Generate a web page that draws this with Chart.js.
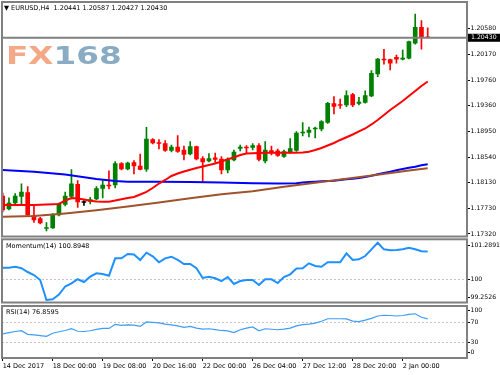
<!DOCTYPE html>
<html>
<head>
<meta charset="utf-8">
<script src="https://cdn.jsdelivr.net/npm/chart.js@4.4.1/dist/chart.umd.min.js"></script>
<style>
  html, body { margin: 0; padding: 0; background: #fff; }
  #wrap { position: relative; width: 500px; height: 375px; overflow: hidden; font-family: "DejaVu Sans", sans-serif; }
  canvas { position: absolute; left: 0; }
  .lbl { position: absolute; font-size: 6.5px; line-height: 10px; color: #000; white-space: pre; }
  #logo { position: absolute; left: 6px; top: 44px; font: bold 24px/24px "DejaVu Sans", sans-serif; transform: scaleX(1.36); transform-origin: 0 0; white-space: nowrap; }
  #logo .fx { color: #f4a886; }
  #logo .n { color: #8aabc4; }
</style>
</head>
<body>
<div id="wrap">
  <canvas id="cMain" width="500" height="240" style="top:0"></canvas>
  <canvas id="cMom" width="500" height="67" style="top:238px"></canvas>
  <canvas id="cRsi" width="500" height="71" style="top:304px"></canvas>
  <div id="logo"><span class="fx">FX</span><span class="n">168</span></div>
  <div class="lbl" id="titleMain" style="left:4px;top:3px"></div>
  <div class="lbl" id="titleMom" style="left:6px;top:241px"></div>
  <div class="lbl" id="titleRsi" style="left:6px;top:307px"></div>
</div>
<script>
// EURUSD H4, 14 Dec 2017 16:00 .. 2 Jan 2018 16:00
const opens = [1.17922,1.17716,1.17811,1.17914,1.17978,1.17613,1.17566,1.17407,1.17415,1.17621,
  1.17788,1.17914,1.18105,1.17819,1.17835,1.17875,1.18041,1.18097,1.18097,1.18437,
  1.18350,1.18453,1.18398,1.18346,1.18818,1.18770,1.18754,1.18643,1.18699,1.18651,
  1.18588,1.18707,1.18517,1.18477,1.18525,1.18509,1.18334,1.18493,1.18675,1.18699,
  1.18691,1.18723,1.18477,1.18643,1.18636,1.18548,1.18612,1.18643,1.18921,1.18929,
  1.18984,1.18984,1.19090,1.19388,1.19373,1.19365,1.19531,1.19388,1.19407,1.19507,
  1.19856,1.20094,1.20086,1.20121,1.20089,1.20105,1.20343,1.20596,1.20441];
const highs = [1.17970,1.17891,1.17962,1.18113,1.18073,1.17780,1.17582,1.17502,1.17645,1.17811,
  1.17986,1.18342,1.18168,1.17851,1.17899,1.18073,1.18168,1.18319,1.18469,1.18453,
  1.18461,1.18485,1.18588,1.19011,1.18834,1.18818,1.18802,1.18731,1.18881,1.18715,
  1.18786,1.18715,1.18548,1.18596,1.18604,1.18548,1.18525,1.18651,1.18731,1.18723,
  1.18754,1.18754,1.18786,1.18715,1.18667,1.18651,1.18834,1.18945,1.19087,1.19016,
  1.19016,1.19119,1.19407,1.19496,1.19460,1.19587,1.19550,1.19484,1.19587,1.19908,
  1.20105,1.20248,1.20094,1.20157,1.20236,1.20379,1.20807,1.20701,1.20587];
const lows = [1.17669,1.17700,1.17788,1.17788,1.17605,1.17502,1.17479,1.17368,1.17407,1.17605,
  1.17764,1.17875,1.17740,1.17772,1.17796,1.17859,1.17891,1.18033,1.18049,1.18334,
  1.18334,1.18271,1.18334,1.18311,1.18747,1.18667,1.18628,1.18620,1.18612,1.18493,
  1.18572,1.18493,1.18149,1.18461,1.18453,1.18271,1.18287,1.18477,1.18636,1.18604,
  1.18651,1.18477,1.18445,1.18572,1.18548,1.18533,1.18596,1.18628,1.18873,1.18857,
  1.18842,1.18953,1.19071,1.19222,1.19312,1.19338,1.19338,1.19365,1.19392,1.19496,
  1.19813,1.20010,1.19919,1.20026,1.20078,1.20094,1.20327,1.20248,1.20427];
const closes = [1.17700,1.17811,1.17922,1.17986,1.17621,1.17542,1.17494,1.17423,1.17629,1.17796,
  1.17922,1.18113,1.17827,1.17819,1.17867,1.18041,1.18097,1.18081,1.18437,1.18350,
  1.18445,1.18398,1.18342,1.18826,1.18762,1.18754,1.18643,1.18699,1.18628,1.18580,
  1.18707,1.18509,1.18461,1.18517,1.18501,1.18334,1.18501,1.18620,1.18699,1.18683,
  1.18723,1.18501,1.18651,1.18604,1.18564,1.18628,1.18675,1.18921,1.18937,1.18968,
  1.18995,1.19100,1.19392,1.19341,1.19357,1.19512,1.19365,1.19412,1.19512,1.19867,
  1.20094,1.20078,1.20026,1.20089,1.20110,1.20368,1.20596,1.20438,1.20430];

// moving averages
const redMA = [1.17780,1.17780,1.17780,1.17780,1.17780,1.17780,1.17783,1.17788,1.17792,1.17796,
  1.17851,1.17891,1.17883,1.17867,1.17848,1.17835,1.17832,1.17832,1.17851,1.17870,
  1.17891,1.17906,1.17946,1.17986,1.18049,1.18120,1.18176,1.18239,1.18279,1.18311,
  1.18339,1.18366,1.18390,1.18414,1.18437,1.18469,1.18504,1.18533,1.18572,1.18596,
  1.18599,1.18604,1.18607,1.18609,1.18609,1.18609,1.18609,1.18609,1.18612,1.18623,
  1.18651,1.18683,1.18723,1.18762,1.18810,1.18853,1.18897,1.18945,1.18992,1.19056,
  1.19127,1.19206,1.19285,1.19357,1.19428,1.19507,1.19587,1.19666,1.19737];
const blueIdx = [0,5,10,15,18,20,25,30,35,40,44,47,48,49,50,51,52,53,54,55,56,57,58,59,60,61,62,63,64,65,66,67,68];
const blueMA = [1.18334,1.18307,1.18263,1.18192,1.18160,1.18149,1.18147,1.18144,1.18136,1.18124,1.18120,
  1.18124,1.18136,1.18144,1.18149,1.18155,1.18160,1.18165,1.18176,1.18187,1.18197,1.18208,
  1.18223,1.18244,1.18266,1.18287,1.18307,1.18330,1.18350,1.18371,1.18387,1.18409,1.18425];
const brownIdx = [0,5,10,15,20,25,30,35,40,45,50,55,60,65,68];
const brownMA = [1.17594,1.17605,1.17645,1.17696,1.17756,1.17819,1.17886,1.17949,1.17997,1.18070,
  1.18132,1.18195,1.18258,1.18326,1.18361];

// indicators
const mom = [100.374,100.374,100.403,100.357,100.235,100.138,99.977,99.333,99.359,99.510,
  99.768,99.871,100.003,99.913,100.084,100.193,100.171,100.113,100.676,100.676,
  100.815,100.799,100.622,100.857,100.741,100.548,100.676,100.728,100.628,100.493,
  100.493,100.357,100.042,100.081,100.032,99.945,100.074,99.849,99.945,99.977,
  99.977,99.816,100.000,100.000,99.881,100.074,100.161,100.348,100.354,100.515,
  100.428,100.406,100.548,100.548,100.548,100.837,100.622,100.644,100.750,100.966,
  101.179,100.966,100.934,100.944,100.966,101.018,100.966,100.902,100.8948];
const rsi = [47.4,49.6,52,53.7,46.5,45.4,44,42.5,48.5,51.5,
  54,57.4,52.5,52,53.5,56,58,58,66,64,
  64.8,64.5,62,70.8,70,69,66.5,64.8,63,60,
  62,58.5,56.8,57.4,55.6,54,53.2,50,55.4,58.5,
  61,53.4,57.4,56.4,55.4,56.5,58.5,63,65.6,66.6,
  68.5,72,77,77,77,76.8,72.4,71.4,74.4,77.8,
  82.4,83.8,83.4,82.4,83.4,85.4,86.8,80,76.8595];

// axis labels
const timeIdx = [0,8,16,24,32,40,48,56,64];
const timeLabels = ['14 Dec 2017','18 Dec 00:00','19 Dec 08:00','20 Dec 16:00','22 Dec 00:00',
  '26 Dec 04:00','27 Dec 12:00','28 Dec 20:00','2 Jan 00:00'];
const priceTicks = [1.17320,1.17730,1.18130,1.18540,1.18950,1.19360,1.19760,1.20170,1.20580];
const momTicks = [99.407, 100, 101.096];
const momTickText = ['99.2526', '100', '101.2891'];
const rsiTicks = [10.4, 30, 70, 92.8];
const rsiTickText = ['0', '30', '70', '100'];

const last = closes.length - 1;
const bid = closes[last];
const upColor = '#008000', downColor = '#ff0000', dojiColor = '#000000';
const axisFont = { family: 'DejaVu Sans', size: 6.5 };
const priceFont = { family: 'DejaVu Sans', size: 6.2 };
const candleColor = i => closes[i] > opens[i] ? upColor : (closes[i] < opens[i] ? downColor : dojiColor);

document.getElementById('titleMain').innerText =
  '\u25BC EURUSD,H4  ' + [opens[last], highs[last], lows[last], closes[last]].map(v => v.toFixed(5)).join(' ');
document.getElementById('titleMom').innerText = 'Momentum(14) ' + mom[last].toFixed(4);
document.getElementById('titleRsi').innerText = 'RSI(14) ' + rsi[last].toFixed(4);

function xAxis(show) {
  return {
    type: 'linear', min: -0.112, max: 74.288, offset: false, display: show,
    afterBuildTicks: s => { s.ticks = timeIdx.map(v => ({ value: v })); },
    afterFit: s => { s.height = show ? 17 : 0; s.paddingLeft = 0; s.paddingRight = 0; },
    grid: { drawOnChartArea: false, tickLength: 3, tickColor: '#000' },
    border: { display: false },
    ticks: { align: 'start', autoSkip: false, maxRotation: 0, padding: 1, color: '#000', font: axisFont,
      callback: (v, i) => timeLabels[i] }
  };
}

function yAxis(min, max, vals, text, levels) {
  return {
    position: 'right', min, max,
    afterBuildTicks: s => { s.ticks = vals.map(v => ({ value: v })); },
    afterFit: s => { s.width = 33; s.paddingTop = 0; s.paddingBottom = 0; },
    grid: {
      drawOnChartArea: levels.length > 0,
      color: c => (c.tick && levels.includes(c.tick.value)) ? '#c4c4c4' : 'rgba(0,0,0,0)',
      tickColor: '#000', tickLength: 3, lineWidth: 1
    },
    border: { display: false, dash: [2, 2] },
    ticks: { padding: 0.5, color: '#000', font: priceFont, callback: (v, i) => text[i] }
  };
}

const framePlugin = {
  id: 'frame',
  afterDraw(chart) {
    const { ctx, chartArea: a } = chart;
    ctx.save();
    ctx.strokeStyle = '#808080';
    ctx.lineWidth = 2;
    ctx.strokeRect(a.left, a.top, a.right - a.left, a.bottom - a.top);
    ctx.restore();
  }
};

const bidPlugin = {
  id: 'bid',
  afterDatasetsDraw(chart) {
    const { ctx, chartArea: a, scales } = chart;
    const py = scales.y.getPixelForValue(bid);
    ctx.save();
    ctx.strokeStyle = '#808080';
    ctx.lineWidth = 2;
    ctx.beginPath();
    ctx.moveTo(a.left, py);
    ctx.lineTo(a.right, py);
    ctx.stroke();
    ctx.restore();
  },
  afterDraw(chart) {
    const { ctx, chartArea: a, scales } = chart;
    const py = scales.y.getPixelForValue(bid);
    ctx.save();
    ctx.fillStyle = '#000';
    ctx.fillRect(a.right + 1, py - 4, 32, 8);
    ctx.fillStyle = '#fff';
    ctx.font = '6.2px "DejaVu Sans"';
    ctx.textBaseline = 'middle';
    ctx.fillText(bid.toFixed(5), a.right + 4, py);
    ctx.restore();
  }
};

const base = {
  responsive: false, animation: false, devicePixelRatio: 1, events: [],
  plugins: { legend: { display: false }, tooltip: { enabled: false } }
};

const idx = closes.map((c, i) => i);

new Chart(document.getElementById('cMain'), {
  type: 'bar',
  data: {
    datasets: [
      { type: 'line', data: redMA.map((v, i) => ({ x: i, y: v })), borderColor: '#ff0000', borderWidth: 2, pointRadius: 0, order: 0 },
      { type: 'line', data: brownIdx.map((x, k) => ({ x, y: brownMA[k] })), borderColor: '#a0522d', borderWidth: 2, pointRadius: 0, order: 0 },
      { type: 'line', data: blueIdx.map((x, k) => ({ x, y: blueMA[k] })), borderColor: '#0000ff', borderWidth: 2, pointRadius: 0, order: 0 },
      { type: 'bar', data: idx.map(i => ({ x: i, y: [opens[i], closes[i]] })), backgroundColor: c => candleColor(c.dataIndex),
        barThickness: 4, grouped: false, minBarLength: 1, borderWidth: 0, order: 1 },
      { type: 'bar', data: idx.map(i => ({ x: i, y: [lows[i], highs[i]] })), backgroundColor: c => candleColor(c.dataIndex),
        barThickness: 1, grouped: false, borderWidth: 0, order: 2 }
    ]
  },
  options: Object.assign({}, base, {
    layout: { padding: { left: 2, top: 2, right: 0, bottom: 3.5 } },
    scales: {
      x: xAxis(false),
      y: yAxis(1.17280, 1.20997, priceTicks, priceTicks.map(v => v.toFixed(5)), [])
    }
  }),
  plugins: [framePlugin, bidPlugin]
});

new Chart(document.getElementById('cMom'), {
  type: 'line',
  data: { datasets: [{ data: mom.map((v, i) => ({ x: i, y: v })), borderColor: '#1e90ff', borderWidth: 2, pointRadius: 0 }] },
  options: Object.assign({}, base, {
    layout: { padding: { left: 2, top: 1.3, right: 0, bottom: 2.5 } },
    scales: { x: xAxis(false), y: yAxis(99.2526, 101.2891, momTicks, momTickText, [100]) }
  }),
  plugins: [framePlugin]
});

new Chart(document.getElementById('cRsi'), {
  type: 'line',
  data: { datasets: [{ data: rsi.map((v, i) => ({ x: i, y: v })), borderColor: '#3f9cf7', borderWidth: 1.2, pointRadius: 0 }] },
  options: Object.assign({}, base, {
    layout: { padding: { left: 2, top: 2, right: 0, bottom: 0 } },
    scales: { x: xAxis(true), y: yAxis(0, 102, rsiTicks, rsiTickText, [30, 70]) }
  }),
  plugins: [framePlugin]
});
</script>
</body>
</html>
